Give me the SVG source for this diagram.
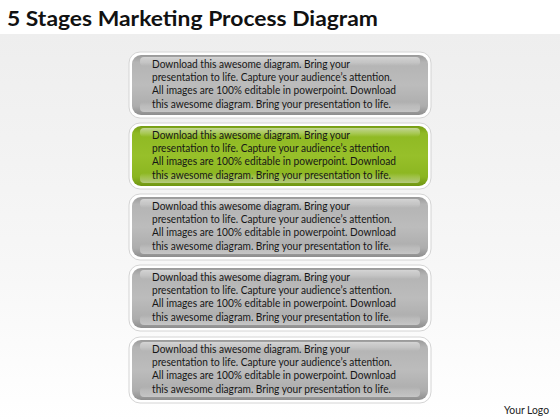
<svg xmlns="http://www.w3.org/2000/svg" width="560" height="420" viewBox="0 0 560 420">
<defs>
<linearGradient id="bg" x1="0" y1="0" x2="0" y2="1">
<stop offset="0" stop-color="#eeeeee"/>
<stop offset="0.6" stop-color="#f7f7f7"/>
<stop offset="1" stop-color="#ffffff"/>
</linearGradient>
<linearGradient id="gray" x1="0" y1="0" x2="0" y2="1">
<stop offset="0" stop-color="#9a9a9a"/>
<stop offset="0.12" stop-color="#b4b4b4"/>
<stop offset="0.5" stop-color="#bcbcbc"/>
<stop offset="0.85" stop-color="#adadad"/>
<stop offset="1" stop-color="#8e8e8e"/>
</linearGradient>
<linearGradient id="green" x1="0" y1="0" x2="0" y2="1">
<stop offset="0" stop-color="#769d14"/>
<stop offset="0.12" stop-color="#8fb923"/>
<stop offset="0.5" stop-color="#97c02a"/>
<stop offset="0.85" stop-color="#8bb520"/>
<stop offset="1" stop-color="#6f9512"/>
</linearGradient>
<linearGradient id="hl" x1="0" y1="0" x2="0" y2="1">
<stop offset="0" stop-color="#ffffff" stop-opacity="0.55"/>
<stop offset="1" stop-color="#ffffff" stop-opacity="0"/>
</linearGradient>
<linearGradient id="sh" x1="0" y1="0" x2="0" y2="1">
<stop offset="0" stop-color="#ffffff" stop-opacity="0"/>
<stop offset="1" stop-color="#ffffff" stop-opacity="0.45"/>
</linearGradient>
</defs>
<style>
.frame{fill:#ffffff;stroke:#d4d4d4;stroke-width:1}
.t{font-family:Lato,"Open Sans",sans-serif;font-size:10.8px;fill:#161616}
.title{font-family:Lato,"Open Sans",sans-serif;font-size:21.5px;font-weight:bold;fill:#111111}
.logo{font-family:Lato,"Open Sans",sans-serif;font-size:10.5px;fill:#222222}
</style>
<rect x="0" y="0" width="560" height="420" fill="#ffffff"/>
<rect x="0" y="34" width="560" height="386" fill="url(#bg)"/>
<text class="title" x="7" y="26" textLength="371" lengthAdjust="spacingAndGlyphs">5 Stages Marketing Process Diagram</text>

<g id="connectors"></g>

<g id="stage1" transform="translate(0,52)">
<rect class="frame" x="129" y="0" width="302" height="66" rx="11"/>
<rect x="132" y="3" width="296" height="60" rx="9" fill="url(#gray)"/>
<rect x="140" y="5" width="280" height="9" rx="4" fill="url(#hl)"/>
<rect x="140" y="50" width="280" height="10" rx="4" fill="url(#sh)"/>
<text class="t" x="152" y="15.7" textLength="198" lengthAdjust="spacingAndGlyphs">Download this awesome diagram. Bring your</text>
<text class="t" x="152" y="29" textLength="240" lengthAdjust="spacingAndGlyphs">presentation to life. Capture your audience’s attention.</text>
<text class="t" x="152" y="42.3" textLength="244" lengthAdjust="spacingAndGlyphs">All images are 100% editable in powerpoint. Download</text>
<text class="t" x="152" y="55.6" textLength="239" lengthAdjust="spacingAndGlyphs">this awesome diagram. Bring your presentation to life.</text>
</g>

<g id="stage2" transform="translate(0,123)">
<rect class="frame" x="129" y="0" width="302" height="66" rx="11"/>
<rect x="132" y="3" width="296" height="60" rx="9" fill="url(#green)"/>
<rect x="140" y="5" width="280" height="9" rx="4" fill="url(#hl)"/>
<rect x="140" y="50" width="280" height="10" rx="4" fill="url(#sh)"/>
<text class="t" x="152" y="15.7" textLength="198" lengthAdjust="spacingAndGlyphs">Download this awesome diagram. Bring your</text>
<text class="t" x="152" y="29" textLength="240" lengthAdjust="spacingAndGlyphs">presentation to life. Capture your audience’s attention.</text>
<text class="t" x="152" y="42.3" textLength="244" lengthAdjust="spacingAndGlyphs">All images are 100% editable in powerpoint. Download</text>
<text class="t" x="152" y="55.6" textLength="239" lengthAdjust="spacingAndGlyphs">this awesome diagram. Bring your presentation to life.</text>
</g>

<g id="stage3" transform="translate(0,194)">
<rect class="frame" x="129" y="0" width="302" height="66" rx="11"/>
<rect x="132" y="3" width="296" height="60" rx="9" fill="url(#gray)"/>
<rect x="140" y="5" width="280" height="9" rx="4" fill="url(#hl)"/>
<rect x="140" y="50" width="280" height="10" rx="4" fill="url(#sh)"/>
<text class="t" x="152" y="15.7" textLength="198" lengthAdjust="spacingAndGlyphs">Download this awesome diagram. Bring your</text>
<text class="t" x="152" y="29" textLength="240" lengthAdjust="spacingAndGlyphs">presentation to life. Capture your audience’s attention.</text>
<text class="t" x="152" y="42.3" textLength="244" lengthAdjust="spacingAndGlyphs">All images are 100% editable in powerpoint. Download</text>
<text class="t" x="152" y="55.6" textLength="239" lengthAdjust="spacingAndGlyphs">this awesome diagram. Bring your presentation to life.</text>
</g>

<g id="stage4" transform="translate(0,265)">
<rect class="frame" x="129" y="0" width="302" height="66" rx="11"/>
<rect x="132" y="3" width="296" height="60" rx="9" fill="url(#gray)"/>
<rect x="140" y="5" width="280" height="9" rx="4" fill="url(#hl)"/>
<rect x="140" y="50" width="280" height="10" rx="4" fill="url(#sh)"/>
<text class="t" x="152" y="15.7" textLength="198" lengthAdjust="spacingAndGlyphs">Download this awesome diagram. Bring your</text>
<text class="t" x="152" y="29" textLength="240" lengthAdjust="spacingAndGlyphs">presentation to life. Capture your audience’s attention.</text>
<text class="t" x="152" y="42.3" textLength="244" lengthAdjust="spacingAndGlyphs">All images are 100% editable in powerpoint. Download</text>
<text class="t" x="152" y="55.6" textLength="239" lengthAdjust="spacingAndGlyphs">this awesome diagram. Bring your presentation to life.</text>
</g>

<g id="stage5" transform="translate(0,337)">
<rect class="frame" x="129" y="0" width="302" height="66" rx="11"/>
<rect x="132" y="3" width="296" height="60" rx="9" fill="url(#gray)"/>
<rect x="140" y="5" width="280" height="9" rx="4" fill="url(#hl)"/>
<rect x="140" y="50" width="280" height="10" rx="4" fill="url(#sh)"/>
<text class="t" x="152" y="15.7" textLength="198" lengthAdjust="spacingAndGlyphs">Download this awesome diagram. Bring your</text>
<text class="t" x="152" y="29" textLength="240" lengthAdjust="spacingAndGlyphs">presentation to life. Capture your audience’s attention.</text>
<text class="t" x="152" y="42.3" textLength="244" lengthAdjust="spacingAndGlyphs">All images are 100% editable in powerpoint. Download</text>
<text class="t" x="152" y="55.6" textLength="239" lengthAdjust="spacingAndGlyphs">this awesome diagram. Bring your presentation to life.</text>
</g>

<text class="logo" x="504" y="414" textLength="45" lengthAdjust="spacingAndGlyphs">Your Logo</text>
</svg>
